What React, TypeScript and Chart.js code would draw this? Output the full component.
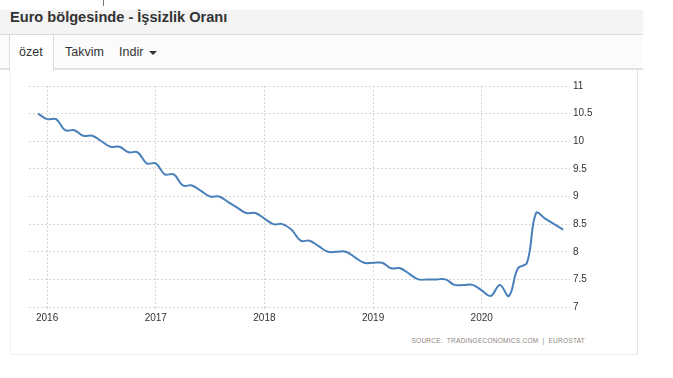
import React, { useEffect, useRef } from "react";
import { Chart, registerables } from "chart.js";

Chart.register(...registerables);

// ---- data ----
const titleText = "Euro bölgesinde - İşsizlik Oranı";
const tabLabels = ["özet", "Takvim", "Indir"];
const sourceText = "SOURCE:  TRADINGECONOMICS.COM  |  EUROSTAT";
const yearLabels = ["2016", "2017", "2018", "2019", "2020"];
// first value = Dec 2015 (one month before Jan 2016)
const firstMonthOffset = -1;
const unemployment2015 = [10.5];
const unemployment2016 = [10.4, 10.4, 10.2, 10.2, 10.1, 10.1, 10.0, 9.9, 9.9, 9.8, 9.8, 9.6];
const unemployment2017 = [9.6, 9.4, 9.4, 9.2, 9.2, 9.1, 9.0, 9.0, 8.9, 8.8, 8.7, 8.7];
const unemployment2018 = [8.6, 8.5, 8.5, 8.4, 8.2, 8.2, 8.1, 8.0, 8.0, 8.0, 7.9, 7.8];
const unemployment2019 = [7.8, 7.8, 7.7, 7.7, 7.6, 7.5, 7.5, 7.5, 7.5, 7.4, 7.4, 7.4];
const unemployment2020 = [7.3, 7.2, 7.4, 7.2, 7.7, 7.8, 8.7, 8.6, 8.5, 8.4];
const yMin = 7;
const yMax = 11;
const yStep = 0.5;
const xMin = -2;
const xMax = 57.75;

const unemployment = [
  ...unemployment2015,
  ...unemployment2016,
  ...unemployment2017,
  ...unemployment2018,
  ...unemployment2019,
  ...unemployment2020,
];

const FONT = "Arial, 'Liberation Sans', sans-serif";

export default function App() {
  const canvasRef = useRef<HTMLCanvasElement | null>(null);

  useEffect(() => {
    if (!canvasRef.current) return;
    const chart = new Chart(canvasRef.current, {
      type: "line",
      data: {
        datasets: [
          {
            data: unemployment.map((v, i) => ({ x: i + firstMonthOffset, y: v })),
            borderColor: "#4a80ba",
            borderWidth: 2,
            pointRadius: 0,
            tension: 0.4,
            fill: false,
          },
        ],
      },
      options: {
        animation: false,
        responsive: false,
        devicePixelRatio: 1,
        events: [],
        layout: { padding: { left: 29, top: 86, right: 73, bottom: 51 } },
        plugins: { legend: { display: false }, tooltip: { enabled: false } },
        scales: {
          x: {
            type: "linear",
            min: xMin,
            max: xMax,
            afterBuildTicks: (s: any) => {
              s.ticks = yearLabels.map((_, i) => ({ value: i * 12 }));
            },
            afterFit: (s: any) => {
              s.height = 20;
            },
            ticks: {
              autoSkip: false,
              maxRotation: 0,
              padding: 3,
              color: "#333",
              font: { size: 10, family: FONT },
              callback: (_v: any, i: number) => yearLabels[i],
            },
            grid: { color: "#d6d6d6", lineWidth: 1, drawTicks: true, tickLength: 2 },
            border: { display: false, dash: [2, 2] },
          },
          y: {
            position: "right",
            min: yMin,
            max: yMax,
            afterFit: (s: any) => {
              s.width = 30;
            },
            ticks: {
              stepSize: yStep,
              padding: 3,
              color: "#333",
              font: { size: 10, family: FONT },
              callback: (v: any) => String(Math.round(Number(v) * 10) / 10),
            },
            grid: { color: "#d6d6d6", lineWidth: 1, drawTicks: false },
            border: { display: false, dash: [2, 2] },
          },
        },
      },
    } as any);
    return () => chart.destroy();
  }, []);

  const abs = (s: React.CSSProperties): React.CSSProperties => ({ position: "absolute", ...s });

  return (
    <div
      style={{
        position: "fixed",
        left: 0,
        top: 0,
        width: 673,
        height: 378,
        background: "#fff",
        fontFamily: FONT,
        overflow: "hidden",
      }}
    >
      {/* small mark at top */}
      <div style={abs({ left: 103, top: 0, width: 1, height: 6, background: "#777" })} />
      {/* title band */}
      <div
        style={abs({
          left: 0,
          top: 10,
          width: 643,
          height: 24,
          background: "#f4f4f4",
          borderBottom: "1px solid #dcdcdc",
        })}
      />
      <div
        style={abs({
          left: 10,
          top: 9,
          fontSize: 14.6,
          lineHeight: "16px",
          fontWeight: "bold",
          color: "#333",
          whiteSpace: "nowrap",
        })}
      >
        {titleText}
      </div>
      {/* tab bar */}
      <div
        style={abs({
          left: 0,
          top: 35,
          width: 643,
          height: 33,
          background: "#fbfbfb",
          borderBottom: "2px solid #e2e2e2",
        })}
      />
      {/* panel */}
      <div
        style={abs({
          left: 10,
          top: 70,
          width: 626,
          height: 284,
          background: "#fff",
          borderLeft: "1px solid #efefef",
          borderRight: "1px solid #e4e4e4",
          borderBottom: "1px solid #efefef",
        })}
      />
      {/* active tab */}
      <div
        style={abs({
          left: 9,
          top: 35,
          width: 43,
          height: 36,
          background: "#fff",
          borderLeft: "1px solid #ddd",
          borderRight: "1px solid #ddd",
        })}
      />
      <div style={abs({ left: 19, top: 45, fontSize: 12.5, lineHeight: "14px", color: "#333" })}>
        {tabLabels[0]}
      </div>
      <div style={abs({ left: 65, top: 45, fontSize: 12.5, lineHeight: "14px", color: "#333" })}>
        {tabLabels[1]}
      </div>
      <div style={abs({ left: 119, top: 45, fontSize: 12.5, lineHeight: "14px", color: "#333" })}>
        {tabLabels[2]}
      </div>
      <div
        style={abs({
          left: 149,
          top: 51,
          width: 0,
          height: 0,
          borderLeft: "4px solid transparent",
          borderRight: "4px solid transparent",
          borderTop: "4px solid #333",
        })}
      />
      {/* source */}
      <div
        style={abs({
          right: 673 - 585,
          top: 337,
          fontSize: 6.6,
          lineHeight: "8px",
          letterSpacing: 0.2,
          color: "#8f8680",
          whiteSpace: "pre",
        })}
      >
        {sourceText}
      </div>
      <canvas
        ref={canvasRef}
        width={673}
        height={378}
        style={abs({ left: 0, top: 0, width: 673, height: 378, pointerEvents: "none" })}
      />
    </div>
  );
}
